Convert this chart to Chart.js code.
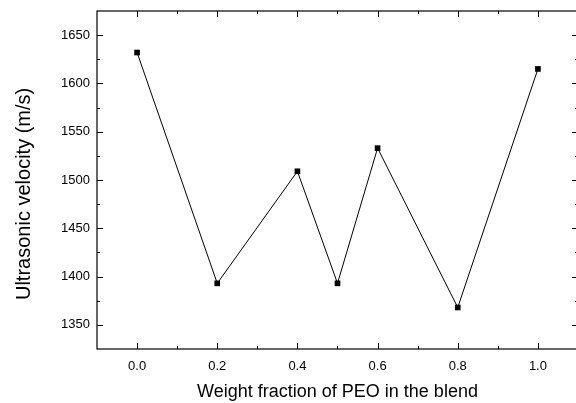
<!DOCTYPE html>
<html><head><meta charset="utf-8">
<script src="https://cdn.jsdelivr.net/npm/chart.js@4/dist/chart.umd.min.js"></script>
<style>html,body{margin:0;padding:0;background:#fff;overflow:hidden;width:576px;height:403px}#wrap{width:582px;height:403px}</style>
</head><body><div id="wrap"><canvas id="c" width="582" height="403"></canvas></div>
<script>
const weightFraction = [0.0, 0.2, 0.4, 0.5, 0.6, 0.8, 1.0];
const velocity = [1632, 1393, 1509, 1393, 1533, 1368, 1615];
const xTickValues = [0.0, 0.2, 0.4, 0.6, 0.8, 1.0];
const xMinorValues = [0.1, 0.3, 0.5, 0.7, 0.9];
const yTickValues = [1350, 1400, 1450, 1500, 1550, 1600, 1650];
const yMinorValues = [1375, 1425, 1475, 1525, 1575, 1625];

const FONT = "'Liberation Sans', Arial, sans-serif";

const framePlugin = {
  id: 'frame',
  afterDraw(chart) {
    const {ctx, chartArea: a, scales: {x, y}} = chart;
    ctx.save();
    ctx.strokeStyle = '#000';
    ctx.lineWidth = 1.2;
    ctx.strokeRect(a.left, a.top, a.right - a.left, a.bottom - a.top);
    ctx.lineWidth = 1;
    ctx.beginPath();
    const major = 6, minor = 3;
    xTickValues.forEach(v => { const p = Math.round(x.getPixelForValue(v)) + 0.5;
      ctx.moveTo(p, a.bottom); ctx.lineTo(p, a.bottom - major);
      ctx.moveTo(p, a.top); ctx.lineTo(p, a.top + major); });
    xMinorValues.forEach(v => { const p = Math.round(x.getPixelForValue(v)) + 0.5;
      ctx.moveTo(p, a.bottom); ctx.lineTo(p, a.bottom - minor);
      ctx.moveTo(p, a.top); ctx.lineTo(p, a.top + minor); });
    yTickValues.forEach(v => { const p = Math.round(y.getPixelForValue(v)) + 0.5;
      ctx.moveTo(a.left, p); ctx.lineTo(a.left + major, p);
      ctx.moveTo(a.right, p); ctx.lineTo(a.right - major, p); });
    yMinorValues.forEach(v => { const p = Math.round(y.getPixelForValue(v)) + 0.5;
      ctx.moveTo(a.left, p); ctx.lineTo(a.left + minor, p);
      ctx.moveTo(a.right, p); ctx.lineTo(a.right - minor, p); });
    ctx.stroke();
    ctx.restore();
  }
};

new Chart(document.getElementById('c'), {
  type: 'line',
  data: {
    datasets: [{
      data: weightFraction.map((v, i) => ({x: v, y: velocity[i]})),
      borderColor: '#000',
      borderWidth: 1,
      backgroundColor: '#000',
      pointStyle: 'rect',
      pointRadius: 4,
      pointBorderWidth: 0,
      tension: 0
    }]
  },
  options: {
    responsive: false,
    animation: false,
    events: [],
    layout: {padding: {top: 11, right: 2, left: 0, bottom: 0}},
    plugins: {legend: {display: false}, tooltip: {enabled: false}},
    scales: {
      x: {
        type: 'linear', min: -0.1, max: 1.1,
        afterBuildTicks(s) { s.ticks = xTickValues.map(v => ({value: v})); },
        afterFit(s) { s.height = 54; s.paddingLeft = 0; s.paddingRight = 0; },
        grid: {display: false, drawTicks: false},
        border: {display: false},
        ticks: {color: '#000', font: {family: FONT, size: 13}, padding: 10,
          callback: v => Number(v).toFixed(1), maxRotation: 0, autoSkip: false},
        title: {display: true, text: 'Weight fraction of PEO in the blend', color: '#000',
          font: {family: FONT, size: 18}, padding: {top: 4, bottom: 0}}
      },
      y: {
        type: 'linear', min: 1325, max: 1675,
        afterBuildTicks(s) { s.ticks = yTickValues.map(v => ({value: v})); },
        afterFit(s) { s.width = 97; s.paddingTop = 0; s.paddingBottom = 0; },
        grid: {display: false, drawTicks: false},
        border: {display: false},
        ticks: {color: '#000', font: {family: FONT, size: 13}, padding: 7, autoSkip: false,
          callback: v => String(v)},
        title: {display: true, text: 'Ultrasonic velocity (m/s)     ', color: '#000',
          font: {family: FONT, size: 20}, padding: {top: 12, bottom: 0}}
      }
    }
  },
  plugins: [framePlugin]
});
</script>
</body></html>
